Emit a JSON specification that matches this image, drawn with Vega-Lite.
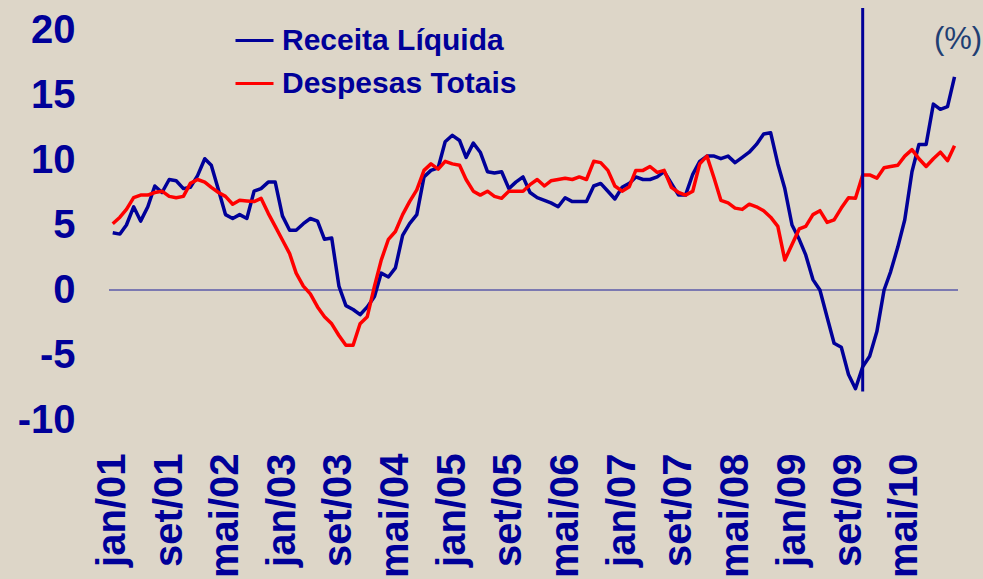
{
  "$schema": "https://vega.github.io/schema/vega-lite/v6.json",
  "width": 849,
  "height": 390,
  "autosize": {"type": "none"},
  "padding": {"left": 109, "top": 30, "right": 25, "bottom": 159},
  "background": "#DDD6C8",
  "config": {
    "view": {"stroke": null},
    "font": "Liberation Sans",
    "axis": {"grid": false, "domain": false, "ticks": false, "title": null,
             "labelFont": "Liberation Sans", "labelFontWeight": "bold", "labelColor": "#000099"}
  },
  "layer": [
    {
      "data": {"values": [{}]},
      "mark": {"type": "rule", "color": "#5A5AAA", "strokeWidth": 1.5},
      "encoding": {"y": {"datum": 0, "type": "quantitative"}}
    },
    {
      "data": {"values": [
        {"m":"2001-01","Receita Líquida":4.4,"Despesas Totais":5.1},
        {"m":"2001-02","Receita Líquida":4.3,"Despesas Totais":5.6},
        {"m":"2001-03","Receita Líquida":5.0,"Despesas Totais":6.2},
        {"m":"2001-04","Receita Líquida":6.4,"Despesas Totais":7.1},
        {"m":"2001-05","Receita Líquida":5.3,"Despesas Totais":7.3},
        {"m":"2001-06","Receita Líquida":6.4,"Despesas Totais":7.3},
        {"m":"2001-07","Receita Líquida":8.0,"Despesas Totais":7.5},
        {"m":"2001-08","Receita Líquida":7.5,"Despesas Totais":7.6},
        {"m":"2001-09","Receita Líquida":8.5,"Despesas Totais":7.2},
        {"m":"2001-10","Receita Líquida":8.4,"Despesas Totais":7.1},
        {"m":"2001-11","Receita Líquida":7.8,"Despesas Totais":7.2},
        {"m":"2001-12","Receita Líquida":7.9,"Despesas Totais":8.2},
        {"m":"2002-01","Receita Líquida":8.8,"Despesas Totais":8.5},
        {"m":"2002-02","Receita Líquida":10.1,"Despesas Totais":8.3},
        {"m":"2002-03","Receita Líquida":9.6,"Despesas Totais":7.9},
        {"m":"2002-04","Receita Líquida":7.7,"Despesas Totais":7.5},
        {"m":"2002-05","Receita Líquida":5.8,"Despesas Totais":7.2},
        {"m":"2002-06","Receita Líquida":5.5,"Despesas Totais":6.6},
        {"m":"2002-07","Receita Líquida":5.8,"Despesas Totais":6.9},
        {"m":"2002-08","Receita Líquida":5.5,"Despesas Totais":6.85},
        {"m":"2002-09","Receita Líquida":7.6,"Despesas Totais":6.8},
        {"m":"2002-10","Receita Líquida":7.8,"Despesas Totais":7.05},
        {"m":"2002-11","Receita Líquida":8.3,"Despesas Totais":5.9},
        {"m":"2002-12","Receita Líquida":8.3,"Despesas Totais":4.9},
        {"m":"2003-01","Receita Líquida":5.7,"Despesas Totais":3.85},
        {"m":"2003-02","Receita Líquida":4.6,"Despesas Totais":2.8},
        {"m":"2003-03","Receita Líquida":4.6,"Despesas Totais":1.3},
        {"m":"2003-04","Receita Líquida":5.1,"Despesas Totais":0.3},
        {"m":"2003-05","Receita Líquida":5.5,"Despesas Totais":-0.3},
        {"m":"2003-06","Receita Líquida":5.3,"Despesas Totais":-1.3},
        {"m":"2003-07","Receita Líquida":3.9,"Despesas Totais":-2.05},
        {"m":"2003-08","Receita Líquida":4.0,"Despesas Totais":-2.6},
        {"m":"2003-09","Receita Líquida":0.3,"Despesas Totais":-3.5},
        {"m":"2003-10","Receita Líquida":-1.2,"Despesas Totais":-4.25},
        {"m":"2003-11","Receita Líquida":-1.5,"Despesas Totais":-4.25},
        {"m":"2003-12","Receita Líquida":-1.9,"Despesas Totais":-2.6},
        {"m":"2004-01","Receita Líquida":-1.3,"Despesas Totais":-2.05},
        {"m":"2004-02","Receita Líquida":-0.5,"Despesas Totais":0.3},
        {"m":"2004-03","Receita Líquida":1.3,"Despesas Totais":2.3},
        {"m":"2004-04","Receita Líquida":1.0,"Despesas Totais":3.9},
        {"m":"2004-05","Receita Líquida":1.7,"Despesas Totais":4.5},
        {"m":"2004-06","Receita Líquida":4.2,"Despesas Totais":5.8},
        {"m":"2004-07","Receita Líquida":5.1,"Despesas Totais":6.8},
        {"m":"2004-08","Receita Líquida":5.8,"Despesas Totais":7.7},
        {"m":"2004-09","Receita Líquida":8.7,"Despesas Totais":9.2},
        {"m":"2004-10","Receita Líquida":9.2,"Despesas Totais":9.7},
        {"m":"2004-11","Receita Líquida":9.4,"Despesas Totais":9.3},
        {"m":"2004-12","Receita Líquida":11.4,"Despesas Totais":9.9},
        {"m":"2005-01","Receita Líquida":11.9,"Despesas Totais":9.7},
        {"m":"2005-02","Receita Líquida":11.5,"Despesas Totais":9.6},
        {"m":"2005-03","Receita Líquida":10.2,"Despesas Totais":8.5},
        {"m":"2005-04","Receita Líquida":11.3,"Despesas Totais":7.6},
        {"m":"2005-05","Receita Líquida":10.6,"Despesas Totais":7.3},
        {"m":"2005-06","Receita Líquida":9.1,"Despesas Totais":7.6},
        {"m":"2005-07","Receita Líquida":9.0,"Despesas Totais":7.2},
        {"m":"2005-08","Receita Líquida":9.1,"Despesas Totais":7.05},
        {"m":"2005-09","Receita Líquida":7.8,"Despesas Totais":7.6},
        {"m":"2005-10","Receita Líquida":8.3,"Despesas Totais":7.6},
        {"m":"2005-11","Receita Líquida":8.7,"Despesas Totais":7.6},
        {"m":"2005-12","Receita Líquida":7.5,"Despesas Totais":8.1},
        {"m":"2006-01","Receita Líquida":7.1,"Despesas Totais":8.5},
        {"m":"2006-02","Receita Líquida":6.9,"Despesas Totais":8.0},
        {"m":"2006-03","Receita Líquida":6.7,"Despesas Totais":8.4},
        {"m":"2006-04","Receita Líquida":6.4,"Despesas Totais":8.5},
        {"m":"2006-05","Receita Líquida":7.1,"Despesas Totais":8.6},
        {"m":"2006-06","Receita Líquida":6.8,"Despesas Totais":8.5},
        {"m":"2006-07","Receita Líquida":6.8,"Despesas Totais":8.7},
        {"m":"2006-08","Receita Líquida":6.8,"Despesas Totais":8.5},
        {"m":"2006-09","Receita Líquida":8.0,"Despesas Totais":9.9},
        {"m":"2006-10","Receita Líquida":8.2,"Despesas Totais":9.8},
        {"m":"2006-11","Receita Líquida":7.6,"Despesas Totais":9.2},
        {"m":"2006-12","Receita Líquida":7.0,"Despesas Totais":8.0},
        {"m":"2007-01","Receita Líquida":7.9,"Despesas Totais":7.6},
        {"m":"2007-02","Receita Líquida":8.2,"Despesas Totais":7.95},
        {"m":"2007-03","Receita Líquida":8.7,"Despesas Totais":9.2},
        {"m":"2007-04","Receita Líquida":8.5,"Despesas Totais":9.2},
        {"m":"2007-05","Receita Líquida":8.5,"Despesas Totais":9.5},
        {"m":"2007-06","Receita Líquida":8.7,"Despesas Totais":9.05},
        {"m":"2007-07","Receita Líquida":9.1,"Despesas Totais":9.2},
        {"m":"2007-08","Receita Líquida":8.2,"Despesas Totais":7.9},
        {"m":"2007-09","Receita Líquida":7.3,"Despesas Totais":7.5},
        {"m":"2007-10","Receita Líquida":7.3,"Despesas Totais":7.3},
        {"m":"2007-11","Receita Líquida":8.9,"Despesas Totais":7.6},
        {"m":"2007-12","Receita Líquida":9.9,"Despesas Totais":9.7},
        {"m":"2008-01","Receita Líquida":10.3,"Despesas Totais":10.3},
        {"m":"2008-02","Receita Líquida":10.3,"Despesas Totais":8.6},
        {"m":"2008-03","Receita Líquida":10.1,"Despesas Totais":6.9},
        {"m":"2008-04","Receita Líquida":10.3,"Despesas Totais":6.7},
        {"m":"2008-05","Receita Líquida":9.8,"Despesas Totais":6.3},
        {"m":"2008-06","Receita Líquida":10.2,"Despesas Totais":6.2},
        {"m":"2008-07","Receita Líquida":10.6,"Despesas Totais":6.6},
        {"m":"2008-08","Receita Líquida":11.2,"Despesas Totais":6.4},
        {"m":"2008-09","Receita Líquida":12.0,"Despesas Totais":6.1},
        {"m":"2008-10","Receita Líquida":12.1,"Despesas Totais":5.6},
        {"m":"2008-11","Receita Líquida":9.7,"Despesas Totais":4.9},
        {"m":"2008-12","Receita Líquida":7.8,"Despesas Totais":2.3},
        {"m":"2009-01","Receita Líquida":5.0,"Despesas Totais":3.5},
        {"m":"2009-02","Receita Líquida":3.9,"Despesas Totais":4.7},
        {"m":"2009-03","Receita Líquida":2.7,"Despesas Totais":4.9},
        {"m":"2009-04","Receita Líquida":0.8,"Despesas Totais":5.8},
        {"m":"2009-05","Receita Líquida":0.0,"Despesas Totais":6.1},
        {"m":"2009-06","Receita Líquida":-2.1,"Despesas Totais":5.2},
        {"m":"2009-07","Receita Líquida":-4.1,"Despesas Totais":5.4},
        {"m":"2009-08","Receita Líquida":-4.4,"Despesas Totais":6.3},
        {"m":"2009-09","Receita Líquida":-6.5,"Despesas Totais":7.1},
        {"m":"2009-10","Receita Líquida":-7.6,"Despesas Totais":7.05},
        {"m":"2009-11","Receita Líquida":-5.9,"Despesas Totais":8.85},
        {"m":"2009-12","Receita Líquida":-5.1,"Despesas Totais":8.85},
        {"m":"2010-01","Receita Líquida":-3.2,"Despesas Totais":8.6},
        {"m":"2010-02","Receita Líquida":0.0,"Despesas Totais":9.4},
        {"m":"2010-03","Receita Líquida":1.4,"Despesas Totais":9.5},
        {"m":"2010-04","Receita Líquida":3.3,"Despesas Totais":9.6},
        {"m":"2010-05","Receita Líquida":5.4,"Despesas Totais":10.3},
        {"m":"2010-06","Receita Líquida":9.1,"Despesas Totais":10.8},
        {"m":"2010-07","Receita Líquida":11.2,"Despesas Totais":10.1},
        {"m":"2010-08","Receita Líquida":11.2,"Despesas Totais":9.5},
        {"m":"2010-09","Receita Líquida":14.3,"Despesas Totais":10.1},
        {"m":"2010-10","Receita Líquida":13.9,"Despesas Totais":10.6},
        {"m":"2010-11","Receita Líquida":14.1,"Despesas Totais":9.95},
        {"m":"2010-12","Receita Líquida":16.4,"Despesas Totais":11.1}
      ]},
      "transform": [{"fold": ["Receita Líquida", "Despesas Totais"], "as": ["serie", "valor"]}],
      "mark": {"type": "line", "strokeWidth": 3.5, "strokeJoin": "round"},
      "encoding": {
        "x": {
          "field": "m", "type": "temporal",
          "scale": {"type": "utc", "domain": [{"year": 2000, "month": 12, "date": 16, "utc": true}, {"year": 2010, "month": 12, "date": 16, "utc": true}]},
          "axis": {
            "values": [
              {"year": 2001, "month": 1, "date": 1, "utc": true},
              {"year": 2001, "month": 9, "date": 1, "utc": true},
              {"year": 2002, "month": 5, "date": 1, "utc": true},
              {"year": 2003, "month": 1, "date": 1, "utc": true},
              {"year": 2003, "month": 9, "date": 1, "utc": true},
              {"year": 2004, "month": 5, "date": 1, "utc": true},
              {"year": 2005, "month": 1, "date": 1, "utc": true},
              {"year": 2005, "month": 9, "date": 1, "utc": true},
              {"year": 2006, "month": 5, "date": 1, "utc": true},
              {"year": 2007, "month": 1, "date": 1, "utc": true},
              {"year": 2007, "month": 9, "date": 1, "utc": true},
              {"year": 2008, "month": 5, "date": 1, "utc": true},
              {"year": 2009, "month": 1, "date": 1, "utc": true},
              {"year": 2009, "month": 9, "date": 1, "utc": true},
              {"year": 2010, "month": 5, "date": 1, "utc": true}
            ],
            "labelExpr": "['jan','fev','mar','abr','mai','jun','jul','ago','set','out','nov','dez'][utcmonth(datum.value)] + '/' + utcFormat(datum.value, '%y')",
            "labelAngle": 270,
            "labelFontSize": 40,
            "labelPadding": 33,
            "labelOverlap": false,
            "labelBound": false,
            "labelFlush": false
          }
        },
        "y": {
          "field": "valor", "type": "quantitative",
          "scale": {"domain": [-10, 20], "nice": false, "zero": false},
          "axis": {"values": [-10, -5, 0, 5, 10, 15, 20], "labelExpr": "'' + datum.value", "labelFontSize": 40, "labelPadding": 34}
        },
        "color": {
          "field": "serie", "type": "nominal",
          "scale": {"domain": ["Receita Líquida", "Despesas Totais"], "range": ["#000099", "#FF0000"]},
          "legend": {
            "orient": "none", "legendX": 125, "legendY": -10, "title": null,
            "symbolType": "stroke", "symbolSize": 1444, "symbolStrokeWidth": 3,
            "labelFontSize": 30, "labelFont": "Liberation Sans", "labelFontWeight": "bold",
            "labelColor": "#000099", "labelOffset": 7, "rowPadding": 7, "labelLimit": 0
          }
        }
      }
    },
    {
      "data": {"values": [{}]},
      "mark": {"type": "rule", "color": "#000099", "strokeWidth": 3},
      "encoding": {
        "x": {"datum": {"year": 2009, "month": 11, "date": 1, "utc": true}, "type": "temporal"},
        "y": {"datum": 21.7, "type": "quantitative"},
        "y2": {"datum": -7.8}
      }
    },
    {
      "data": {"values": [{}]},
      "mark": {"type": "text", "text": "(%)", "fontSize": 31, "fontWeight": "normal", "font": "Liberation Sans", "color": "#1F3F73", "align": "center", "baseline": "middle"},
      "encoding": {
        "x": {"datum": {"year": 2010, "month": 12, "date": 16, "utc": true}, "type": "temporal"},
        "y": {"datum": 19.2, "type": "quantitative"}
      }
    }
  ]
}
